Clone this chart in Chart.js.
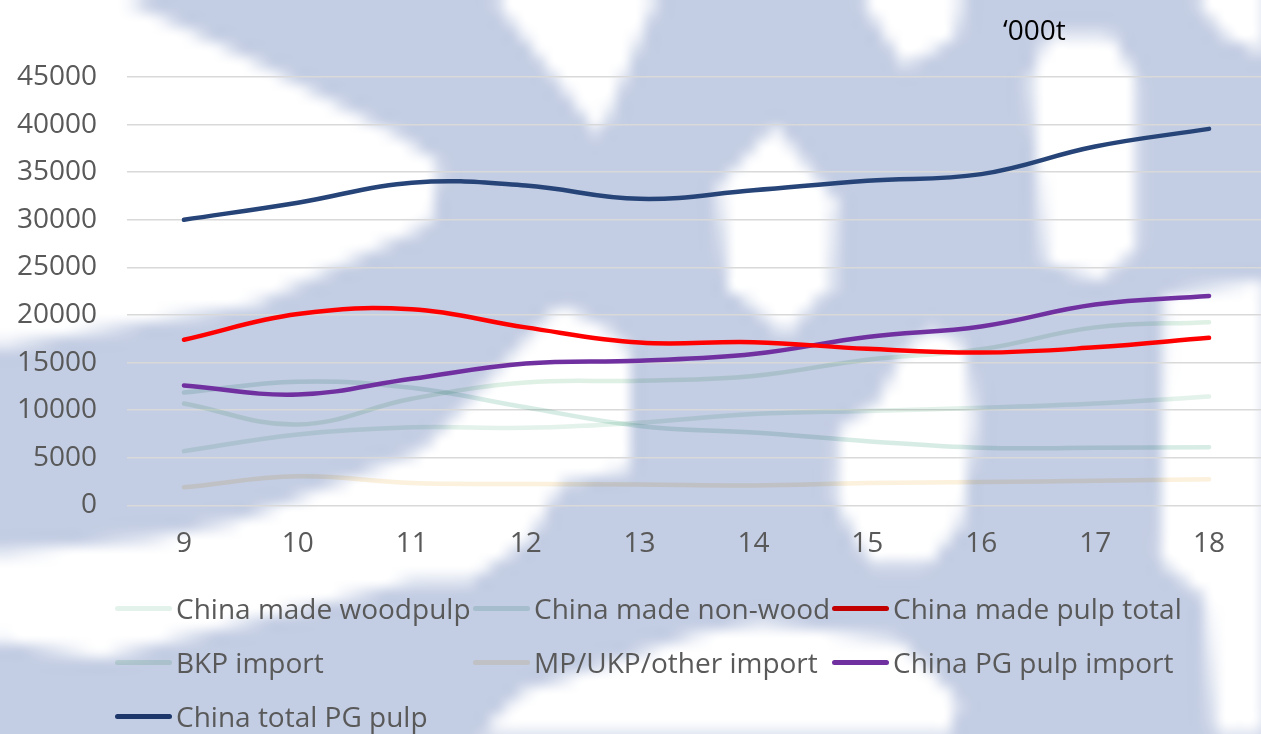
<!DOCTYPE html>
<html><head><meta charset="utf-8">
<script src="https://cdn.jsdelivr.net/npm/chart.js@4.4.1/dist/chart.umd.min.js"></script>
<style>
html,body{margin:0;padding:0;overflow:hidden;background:#fff;width:1261px;height:734px;}
#wrap{position:absolute;left:0;top:0;width:1266px;height:734px;}
#unit{position:absolute;left:1003px;top:10px;font:28px 'Open Sans';color:#000;line-height:38px}
.lg{position:absolute;height:36px;display:flex;align-items:center;font:28px 'Open Sans';color:#595959;white-space:nowrap}
.lg .s{display:inline-block;width:57px;height:5px;border-radius:3px;margin-right:4px;mix-blend-mode:multiply}
</style></head><body>
<div id="wrap"><canvas id="c"></canvas></div>
<div id="unit">‘000t</div>
<div id="legend"></div>
<script>
const categories = ['9','10','11','12','13','14','15','16','17','18'];
const chinaMadeWoodpulp = [5700, 7450, 8200, 8150, 8680, 9600, 9920, 10250, 10700, 11450];
const chinaMadeNonWood = [11850, 13000, 12350, 10300, 8350, 7650, 6750, 6050, 6050, 6120];
const chinaMadePulpTotal = [17400, 20100, 20600, 18700, 17100, 17150, 16450, 16050, 16600, 17600];
const bkpImport = [10700, 8500, 11200, 12900, 13100, 13600, 15300, 16400, 18700, 19250];
const mpUkpOtherImport = [1900, 3050, 2350, 2250, 2200, 2100, 2350, 2450, 2600, 2750];
const chinaPgPulpImport = [12600, 11650, 13300, 14900, 15200, 15900, 17700, 18800, 21100, 22000];
const chinaTotalPgPulp = [30000, 31800, 33900, 33600, 32200, 33100, 34100, 34800, 37700, 39550];
const yTicks = [0, 5000, 10000, 15000, 20000, 25000, 30000, 35000, 40000, 45000];

const series = [
  {label:'China made woodpulp', data:chinaMadeWoodpulp, color:'#e3f2ea', faint:true},
  {label:'China made non-wood', data:chinaMadeNonWood, color:'#d8ece6', faint:true},
  {label:'China made pulp total', data:chinaMadePulpTotal, color:'#ff0000', faint:false},
  {label:'BKP import', data:bkpImport, color:'#dff1e5', faint:true},
  {label:'MP/UKP/other import', data:mpUkpOtherImport, color:'#fcf1dc', faint:true},
  {label:'China PG pulp import', data:chinaPgPulpImport, color:'#7030a0', faint:false},
  {label:'China total PG pulp', data:chinaTotalPgPulp, color:'#264478', faint:false}
];

// decorative pale-blue page watermark behind the plot (soft, low-resolution)
const wmBlue = '#c3cde3';
const wmWhite = [
  [[0,0],[125,0],[250,60],[400,135],[440,165],[430,225],[255,306],[0,345]],
  [[495,0],[655,0],[600,135]],
  [[775,125],[835,200],[832,285],[785,335],[728,282],[718,185]],
  [[862,0],[962,0],[955,40],[905,65]],
  [[1048,35],[1112,35],[1137,80],[1137,250],[1100,280],[1045,262],[1030,80]],
  [[1195,0],[1266,0],[1266,55],[1222,32]],
  [[1165,295],[1266,280],[1266,734],[1215,734],[1205,600],[1160,560]],
  [[560,305],[620,335],[630,360],[630,470],[562,482],[530,540],[470,580],[414,580],[100,657],[0,640],[0,552],[150,540],[237,520],[420,450]],
  [[935,330],[965,345],[975,420],[962,520],[930,565],[870,565],[836,500],[838,430],[880,400],[905,345]],
  [[480,734],[520,692],[700,634],[760,622],[900,642],[958,700],[950,734]]
];
const S = 14;
function makeWatermark(w,h){
  const off = document.createElement('canvas');
  off.width = Math.ceil(w/S)+2; off.height = Math.ceil(h/S)+2;
  const o = off.getContext('2d');
  o.fillStyle = wmBlue; o.fillRect(0,0,off.width,off.height);
  o.scale(1/S,1/S);
  o.fillStyle = '#ffffff';
  wmWhite.forEach(poly=>{
    o.beginPath();
    poly.forEach((p,i)=> i?o.lineTo(p[0],p[1]):o.moveTo(p[0],p[1]));
    o.closePath(); o.fill();
  });
  return off;
}
let wm = null;
const backdrop = {
  id:'backdrop',
  beforeDraw(chart){
    const c = chart.ctx;
    if(!wm) wm = makeWatermark(1266,734);
    c.save();
    c.imageSmoothingEnabled = true;
    c.imageSmoothingQuality = 'high';
    c.drawImage(wm, 0, 0, wm.width*S, wm.height*S);
    c.restore();
  },
  beforeDatasetDraw(chart,args){
    if(series[args.index].faint){chart.ctx.save();chart.ctx.globalCompositeOperation='multiply';}
  },
  afterDatasetDraw(chart,args){
    if(series[args.index].faint){chart.ctx.restore();}
  }
};

const chart = new Chart(document.getElementById('c'), {
  type:'line',
  data:{
    labels:categories,
    datasets:series.map(s=>({label:s.label,data:s.data,borderColor:s.color,backgroundColor:s.color,
      borderWidth:4.5,pointRadius:0,tension:0.4,borderCapStyle:'round',fill:false,order:s.faint?2:1}))
  },
  options:{
    responsive:true,maintainAspectRatio:false,animation:false,
    layout:{padding:{left:17,top:77,right:0,bottom:151}},
    plugins:{legend:{display:false},tooltip:{enabled:false}},
    scales:{
      x:{offset:true,grid:{display:false,drawTicks:false},border:{display:false},
         ticks:{padding:22,color:'#595959',font:{family:'Open Sans',size:28}}},
      y:{min:0,max:45000,afterBuildTicks:(ax)=>{ax.ticks=yTicks.map(v=>({value:v}));},
         afterFit:(s)=>{s.width = 110;},
         grid:{color:'#d9d9d9',lineWidth:1.5,drawTicks:false},border:{display:false},
         ticks:{padding:30,color:'#595959',font:{family:'Open Sans',size:28},callback:(v)=>String(v)}}
    }
  },
  plugins:[backdrop]
});

const cols=[115,473,832], rows=[608,662,716];
const lg=document.getElementById('legend');
series.forEach((s,i)=>{
  const d=document.createElement('div');d.className='lg';
  d.style.left=cols[i%3]+'px';d.style.top=(rows[Math.floor(i/3)]-18)+'px';
  const sw=document.createElement('span');sw.className='s';sw.style.background=s.color;
  d.appendChild(sw);d.appendChild(document.createTextNode(s.label));lg.appendChild(d);
});
</script>
</body></html>
